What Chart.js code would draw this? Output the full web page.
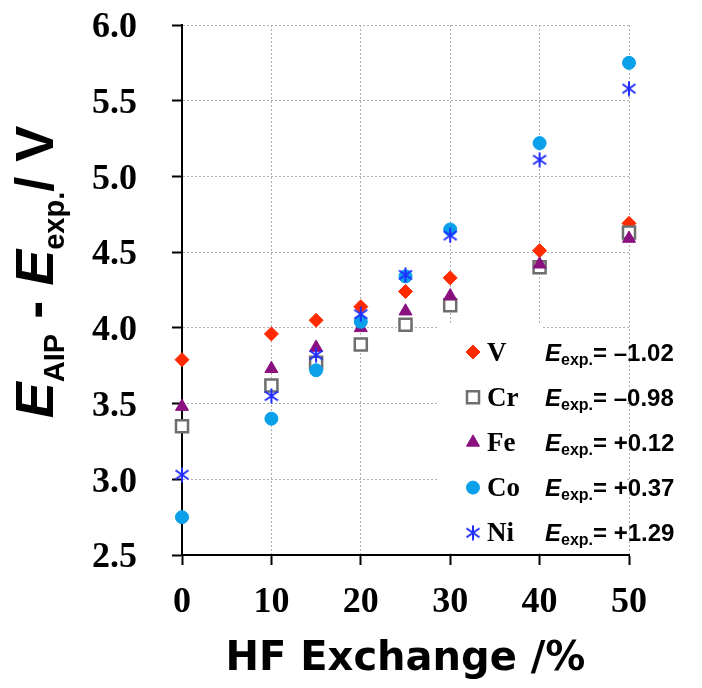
<!DOCTYPE html>
<html>
<head>
<meta charset="utf-8">
<title>E_AIP - E_exp vs HF exchange</title>
<script src="https://cdn.jsdelivr.net/npm/chart.js@4.4.1/dist/chart.umd.min.js"></script>
<style>
    html, body { margin: 0; padding: 0; background: #fff; }
    canvas { display: block; }
</style>
</head>
<body>
<canvas id="chart" width="702" height="688"></canvas>
<script>
// --- Data ---
const hfExchange = [0, 10, 15, 20, 25, 30, 40, 50];
const metals = ['V', 'Cr', 'Fe', 'Co', 'Ni'];
const eExp = [-1.02, -0.98, 0.12, 0.37, 1.29];

const vValues  = [3.79, 3.96, 4.05, 4.14, 4.24, 4.33, 4.51, 4.69];
const crValues = [3.35, 3.62, 3.77, 3.89, 4.02, 4.15, 4.40, 4.63];
const feValues = [3.48, 3.73, 3.87, 4.00, 4.11, 4.21, 4.42, 4.59];
const coValues = [2.75, 3.40, 3.72, 4.04, 4.34, 4.65, 5.22, 5.75];
const niValues = [3.03, 3.55, 3.82, 4.09, 4.35, 4.61, 5.11, 5.58];

const xTicks = [0, 10, 20, 30, 40, 50];
const yTicks = [2.5, 3.0, 3.5, 4.0, 4.5, 5.0, 5.5, 6.0];

// --- Marker for Ni (x with a vertical bar) ---
function makeAsterisk(color) {
    const c = document.createElement('canvas');
    c.width = 16;
    c.height = 16;
    const g = c.getContext('2d');
    g.strokeStyle = color;
    g.lineWidth = 2;
    g.beginPath();
    g.moveTo(8, 0.5); g.lineTo(8, 15.5);
    g.moveTo(1.5, 3.5); g.lineTo(14.5, 12.5);
    g.moveTo(1.5, 12.5); g.lineTo(14.5, 3.5);
    g.stroke();
    return c;
}

// --- Series styles ---
const styles = [
    { color: '#ff2a00', fill: '#ff2a00', pointStyle: 'rectRot', radius: 7, borderWidth: 1 },
    { color: '#6e6e6e', fill: '#ffffff', pointStyle: 'rect', radius: 8.5, borderWidth: 2.5 },
    { color: '#8a0f7f', fill: '#8a0f7f', pointStyle: 'triangle', radius: 7.5, borderWidth: 1 },
    { color: '#0aa0ea', fill: '#0aa0ea', pointStyle: 'circle', radius: 6.5, borderWidth: 1 },
    { color: '#1f2dff', fill: '#1f2dff', pointStyle: makeAsterisk('#1f2dff'), radius: 7, borderWidth: 0 }
];

const seriesValues = [vValues, crValues, feValues, coValues, niValues];

const datasets = metals.map((name, i) => ({
    label: name,
    data: hfExchange.map((x, j) => ({ x: x, y: seriesValues[i][j] })),
    pointStyle: styles[i].pointStyle,
    pointRadius: styles[i].radius,
    pointBackgroundColor: styles[i].fill,
    pointBorderColor: styles[i].color,
    pointBorderWidth: styles[i].borderWidth,
    showLine: false,
    clip: false,
    order: metals.length - i // Ni drawn on top
}));

function formatExp(v) {
    return (v < 0 ? '\u2013' : '+') + Math.abs(v).toFixed(2);
}

// --- Legend box with E_exp values ---
const legendPlugin = {
    id: 'expLegend',
    beforeDatasetsDraw(chart) {
        const ctx = chart.ctx;
        ctx.save();
        ctx.fillStyle = '#ffffff';
        ctx.fillRect(437, 325, 106, 228);
        ctx.fillRect(543, 331, 84, 222);
        ctx.restore();
    },
    afterDatasetsDraw(chart) {
        const ctx = chart.ctx;
        const y0 = 352, dy = 45.2;
        metals.forEach((name, i) => {
            const y = y0 + i * dy;
            const st = styles[i];
            ctx.save();
            ctx.fillStyle = st.fill;
            ctx.strokeStyle = st.color;
            ctx.lineWidth = st.borderWidth;
            Chart.helpers.drawPoint(ctx, {
                pointStyle: st.pointStyle, rotation: 0, radius: st.radius, borderWidth: st.borderWidth
            }, 473, y);
            ctx.restore();

            ctx.save();
            ctx.fillStyle = '#000';
            ctx.textBaseline = 'alphabetic';
            ctx.textAlign = 'left';
            const base = y + 8.5;
            ctx.font = 'bold 27px "Liberation Serif"';
            ctx.fillText(name, 487, base);

            let x = 545;
            ctx.font = 'italic bold 24px "Liberation Sans"';
            ctx.fillText('E', x, base);
            x += ctx.measureText('E').width;
            ctx.font = 'bold 16px "Liberation Sans"';
            ctx.fillText('exp.', x, base + 4);
            x += ctx.measureText('exp.').width;
            ctx.font = 'bold 24px "Liberation Sans"';
            ctx.fillText('= ' + formatExp(eExp[i]), x, base);
            ctx.restore();
        });
    }
};

// --- Rotated y title with subscripts ---
const yTitlePlugin = {
    id: 'yTitle',
    afterDraw(chart) {
        const ctx = chart.ctx;
        const big = 'bold 54px "Liberation Sans"';
        const bigIt = 'italic bold 54px "Liberation Sans"';
        const sub = 'bold 29px "Liberation Sans"';
        const pieces = [
            { t: 'E', f: bigIt, dy: 0 },
            { t: 'AIP', f: sub, dy: 11 },
            { t: ' - ', f: big, dy: 0 },
            { t: 'E', f: bigIt, dy: 0 },
            { t: 'exp.', f: sub, dy: 11 },
            { t: '/ V', f: big, dy: 0 }
        ];
        ctx.save();
        let total = 0;
        pieces.forEach(p => { ctx.font = p.f; p.w = ctx.measureText(p.t).width; total += p.w; });
        ctx.translate(53, 272 + total / 2);
        ctx.rotate(-Math.PI / 2);
        ctx.fillStyle = '#000';
        ctx.textBaseline = 'alphabetic';
        let x = 0;
        pieces.forEach(p => {
            ctx.font = p.f;
            ctx.fillText(p.t, x, p.dy);
            x += p.w;
        });
        ctx.restore();
    }
};

const ctx = document.getElementById('chart').getContext('2d');
new Chart(ctx, {
    type: 'scatter',
    data: { datasets: datasets },
    options: {
        responsive: false,
        animation: false,
        devicePixelRatio: 1,
        layout: { padding: { left: 0, right: 73, top: 25, bottom: 0 } },
        plugins: {
            legend: { display: false },
            tooltip: { enabled: false }
        },
        scales: {
            x: {
                type: 'linear',
                min: 0,
                max: 50,
                afterBuildTicks: s => { s.ticks = xTicks.map(v => ({ value: v })); },
                afterFit: s => {
                    s.height = 133;
                    s.paddingLeft = 0;
                    s.paddingRight = 0;
                },
                grid: {
                    color: '#b0b0b0',
                    lineWidth: 1,
                    tickLength: 10,
                    tickColor: '#000',
                    tickWidth: 2
                },
                border: { color: '#000', width: 2, dash: [2, 2] },
                ticks: {
                    color: '#000',
                    padding: 16,
                    maxRotation: 0,
                    font: { family: '"Liberation Serif"', weight: 'bold', size: 36 }
                },
                title: {
                    display: true,
                    text: 'HF Exchange /%',
                    color: '#000',
                    padding: { top: 0, bottom: 4 },
                    font: { family: '"DejaVu Sans"', weight: 'bold', size: 40 }
                }
            },
            y: {
                type: 'linear',
                min: 2.5,
                max: 6.0,
                afterBuildTicks: s => { s.ticks = yTicks.map(v => ({ value: v })); },
                afterFit: s => {
                    s.width = 182;
                    s.paddingTop = 0;
                    s.paddingBottom = 0;
                },
                grid: {
                    color: '#b0b0b0',
                    lineWidth: 1,
                    tickLength: 10,
                    tickColor: '#000',
                    tickWidth: 2
                },
                border: { color: '#000', width: 2, dash: [2, 2] },
                ticks: {
                    color: '#000',
                    padding: 35,
                    labelOffset: 3,
                    callback: v => v.toFixed(1),
                    font: { family: '"Liberation Serif"', weight: 'bold', size: 36 }
                }
            }
        }
    },
    plugins: [legendPlugin, yTitlePlugin]
});
</script>
</body>
</html>
